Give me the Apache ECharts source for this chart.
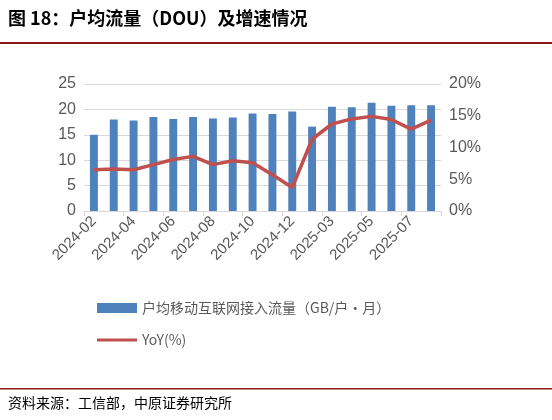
<!DOCTYPE html>
<html><head><meta charset="utf-8">
<script src="https://cdn.jsdelivr.net/npm/echarts@6/dist/echarts.min.js"></script>
<style>body{margin:0;background:#fff}#c{width:552px;height:420px}</style>
</head><body><div id="c"></div>
<script>
var months = ['2024-02','2024-03','2024-04','2024-05','2024-06','2024-07','2024-08','2024-09','2024-10','2024-11','2024-12','2025-02','2025-03','2025-04','2025-05','2025-06','2025-07','2025-08'];
var dou = [15.0, 18.0, 17.8, 18.5, 18.1, 18.5, 18.2, 18.4, 19.2, 19.1, 19.6, 16.6, 20.5, 20.4, 21.3, 20.7, 20.8, 20.8];
var yoy = [6.5, 6.6, 6.5, 7.3, 8.1, 8.6, 7.3, 7.9, 7.6, 5.7, 3.7, 11.3, 13.7, 14.5, 14.9, 14.4, 12.9, 14.3];

var chart = echarts.init(document.getElementById('c'));
var tx = '#595959';
chart.setOption({
    animation: false,
    graphic: [
        {type: 'text', left: 8, top: 9, style: {text: '图 18：户均流量（DOU）及增速情况', font: 'bold 18px "Noto Sans CJK SC"', fill: '#000'}},
        {type: 'rect', shape: {x: 0, y: 42, width: 552, height: 2}, style: {fill: '#8b1a1a'}},
        {type: 'rect', shape: {x: 0, y: 388, width: 552, height: 1.5}, style: {fill: '#8b1a1a'}},
        {type: 'text', left: 8, top: 396, style: {text: '资料来源：工信部，中原证券研究所', font: '14px "Noto Sans CJK SC"', fill: '#000'}}
    ],
    legend: {
        orient: 'vertical', left: 92, top: 296, itemGap: 18, itemWidth: 40, itemHeight: 10,
        textStyle: {color: tx, fontSize: 14, fontFamily: '"Noto Sans CJK SC"'},
        data: [
            {name: '户均移动互联网接入流量（GB/户·月）', icon: 'rect'},
            {name: 'YoY(%)', icon: 'path://M0,4L40,4L40,7L0,7Z'}
        ]
    },
    grid: {left: 84, right: 111, top: 84, bottom: 209},
    xAxis: {
        type: 'category', data: months,
        axisLine: {lineStyle: {color: '#d9d9d9'}},
        axisTick: {show: true, lineStyle: {color: '#d9d9d9'}},
        axisLabel: {interval: 1, rotate: 45, color: tx, fontSize: 15, fontFamily: 'Arial'}
    },
    yAxis: [
        {type: 'value', min: 0, max: 25, interval: 5,
         axisLabel: {color: tx, fontSize: 16, fontFamily: 'Arial'},
         splitLine: {lineStyle: {color: '#d9d9d9'}}},
        {type: 'value', min: 0, max: 20, interval: 5,
         axisLabel: {color: tx, fontSize: 16, fontFamily: 'Arial', formatter: '{value}%'},
         splitLine: {show: false}}
    ],
    series: [
        {name: '户均移动互联网接入流量（GB/户·月）', type: 'bar', data: dou, barWidth: '40%',
         itemStyle: {color: '#4f81bd'}},
        {name: 'YoY(%)', type: 'line', yAxisIndex: 1, data: yoy, symbol: 'none',
         lineStyle: {color: '#c0504d', width: 3.5}, itemStyle: {color: '#c0504d'}}
    ]
});
</script></body></html>
